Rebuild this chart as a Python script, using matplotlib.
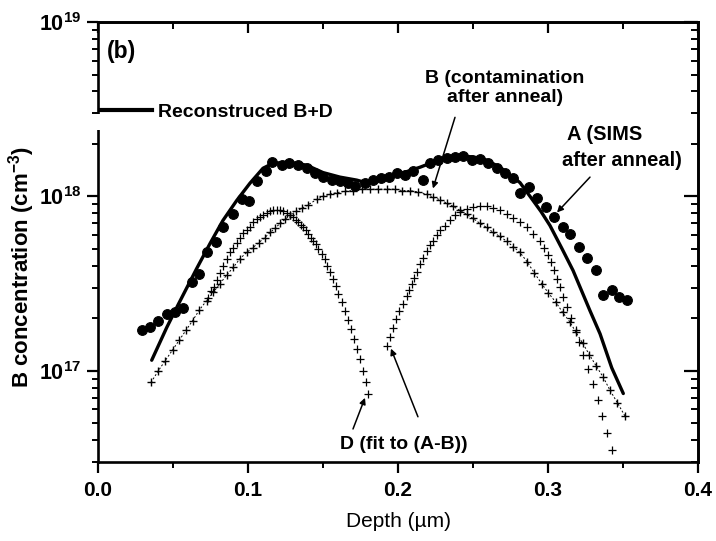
import matplotlib
matplotlib.use("Agg")
import matplotlib.pyplot as plt
from matplotlib.ticker import LogLocator, MultipleLocator, FixedLocator, NullFormatter
from matplotlib.lines import Line2D
from matplotlib.patches import Rectangle

plt.rcParams['font.family'] = ['Liberation Sans', 'DejaVu Sans']
plt.rcParams['mathtext.fontset'] = 'custom'
plt.rcParams['mathtext.rm'] = 'Liberation Sans'
plt.rcParams['mathtext.bf'] = 'Liberation Sans:bold'
plt.rcParams['mathtext.it'] = 'Liberation Sans:italic'

# ---- data (depth in um, concentration in cm^-3) ----
sims_depth = [0.0291, 0.0347, 0.0402, 0.0458, 0.0513, 0.0569, 0.0625, 0.0675, 0.0725, 0.0787,
              0.0835, 0.0898, 0.0958, 0.1009, 0.1058, 0.1120, 0.1162, 0.1225, 0.1275, 0.1335,
              0.1391, 0.1447, 0.1502, 0.1558, 0.1613, 0.1669, 0.1713, 0.1780, 0.1833, 0.1887,
              0.1940, 0.1991, 0.2047, 0.2102, 0.2165, 0.2213, 0.2269, 0.2325, 0.2380, 0.2435,
              0.2491, 0.2547, 0.2602, 0.2658, 0.2713, 0.2769, 0.2813, 0.2875, 0.2925, 0.2985,
              0.3040, 0.3098, 0.3147, 0.3209, 0.3258, 0.3318, 0.3365, 0.3425, 0.3475, 0.3525]
sims_conc = [1.72e17, 1.79e17, 1.94e17, 2.13e17, 2.18e17, 2.30e17, 3.21e17, 3.61e17, 4.77e17, 5.51e17,
             6.64e17, 7.88e17, 9.61e17, 9.36e17, 1.22e18, 1.39e18, 1.57e18, 1.51e18, 1.55e18, 1.51e18,
             1.45e18, 1.36e18, 1.30e18, 1.25e18, 1.22e18, 1.19e18, 1.14e18, 1.19e18, 1.24e18, 1.27e18,
             1.30e18, 1.36e18, 1.32e18, 1.39e18, 1.24e18, 1.55e18, 1.61e18, 1.65e18, 1.68e18, 1.70e18,
             1.61e18, 1.63e18, 1.55e18, 1.45e18, 1.37e18, 1.27e18, 1.05e18, 1.13e18, 9.74e17, 8.65e17,
             7.60e17, 6.64e17, 6.05e17, 5.11e17, 4.42e17, 3.79e17, 2.73e17, 2.91e17, 2.64e17, 2.56e17]

recon_depth = [0.0358, 0.0458, 0.0535, 0.0658, 0.0747, 0.0833, 0.0925, 0.1013, 0.1100, 0.1167,
               0.1280, 0.1391, 0.1500, 0.1613, 0.1725, 0.1800, 0.1947, 0.2147, 0.2233, 0.2413,
               0.2567, 0.2680, 0.2813, 0.2900, 0.2953, 0.3013, 0.3093, 0.3167, 0.3280, 0.3347,
               0.3425, 0.3502]
recon_conc = [1.15e17, 1.77e17, 2.40e17, 3.86e17, 5.37e17, 7.28e17, 9.48e17, 1.19e18, 1.45e18, 1.55e18,
              1.57e18, 1.51e18, 1.37e18, 1.29e18, 1.24e18, 1.19e18, 1.29e18, 1.47e18, 1.57e18, 1.72e18,
              1.65e18, 1.47e18, 1.20e18, 9.48e17, 8.20e17, 6.81e17, 5.02e17, 3.76e17, 2.21e17, 1.63e17,
              1.04e17, 7.41e16]

b_depth = [0.0353, 0.0402, 0.0447, 0.0498, 0.0542, 0.0587, 0.0631, 0.0675, 0.0725, 0.0769,
           0.0813, 0.0858, 0.0902, 0.0947, 0.0991, 0.1033, 0.1073, 0.1113, 0.1147, 0.1180,
           0.1213, 0.1247, 0.1280, 0.1320, 0.1358, 0.1400, 0.1458, 0.1500, 0.1547, 0.1591,
           0.1647, 0.1700, 0.1758, 0.1813, 0.1867, 0.1925, 0.1980, 0.2025, 0.2080, 0.2133,
           0.2191, 0.2233, 0.2280, 0.2325, 0.2367, 0.2413, 0.2458, 0.2500, 0.2547, 0.2591,
           0.2633, 0.2680, 0.2725, 0.2767, 0.2813, 0.2860, 0.2907, 0.2958, 0.3000, 0.3053,
           0.3098, 0.3147, 0.3187, 0.3231, 0.3275, 0.3320, 0.3369, 0.3413, 0.3462, 0.3513]
b_conc = [8.57e16, 1.00e17, 1.14e17, 1.32e17, 1.50e17, 1.71e17, 1.94e17, 2.23e17, 2.53e17, 2.82e17,
          3.16e17, 3.54e17, 3.92e17, 4.40e17, 4.77e17, 5.09e17, 5.44e17, 5.81e17, 6.21e17, 6.55e17,
          7.00e17, 7.38e17, 7.78e17, 8.20e17, 8.53e17, 8.94e17, 9.61e17, 1.00e18, 1.03e18, 1.05e18,
          1.07e18, 1.08e18, 1.10e18, 1.10e18, 1.10e18, 1.10e18, 1.10e18, 1.08e18, 1.08e18, 1.06e18,
          1.03e18, 9.91e17, 9.57e17, 9.15e17, 8.77e17, 8.31e17, 7.88e17, 7.48e17, 7.00e17, 6.64e17,
          6.23e17, 5.89e17, 5.53e17, 5.16e17, 4.77e17, 4.23e17, 3.66e17, 3.16e17, 2.81e17, 2.47e17,
          2.16e17, 1.90e17, 1.66e17, 1.44e17, 1.24e17, 1.07e17, 9.16e16, 7.74e16, 6.57e16, 5.51e16]

d_left_depth = [0.0733, 0.0753, 0.0773, 0.0793, 0.0813, 0.0833, 0.0858, 0.0880, 0.0902, 0.0927,
                0.0947, 0.0967, 0.0991, 0.1013, 0.1035, 0.1060, 0.1080, 0.1100, 0.1125, 0.1147,
                0.1169, 0.1193, 0.1213, 0.1233, 0.1258, 0.1280, 0.1302, 0.1320, 0.1335, 0.1353,
                0.1369, 0.1387, 0.1402, 0.1420, 0.1435, 0.1450, 0.1469, 0.1491, 0.1513, 0.1529,
                0.1547, 0.1565, 0.1587, 0.1602, 0.1625, 0.1647, 0.1665, 0.1687, 0.1707, 0.1725,
                0.1747, 0.1769, 0.1785, 0.1802]
d_left_conc = [2.63e17, 2.85e17, 3.04e17, 3.33e17, 3.66e17, 4.01e17, 4.40e17, 4.77e17, 5.09e17, 5.44e17,
               5.81e17, 6.13e17, 6.46e17, 6.72e17, 7.09e17, 7.38e17, 7.62e17, 7.83e17, 8.04e17, 8.20e17,
               8.31e17, 8.36e17, 8.31e17, 8.20e17, 8.04e17, 7.83e17, 7.57e17, 7.33e17, 7.09e17, 6.86e17,
               6.64e17, 6.38e17, 6.11e17, 5.81e17, 5.55e17, 5.30e17, 5.00e17, 4.69e17, 4.38e17, 4.01e17,
               3.67e17, 3.37e17, 3.08e17, 2.76e17, 2.47e17, 2.21e17, 1.96e17, 1.74e17, 1.52e17, 1.33e17,
               1.17e17, 1.00e17, 8.68e16, 7.41e16]

d_right_depth = [0.1925, 0.1947, 0.1965, 0.1987, 0.2009, 0.2031, 0.2058, 0.2075, 0.2091, 0.2107,
                 0.2125, 0.2147, 0.2169, 0.2191, 0.2213, 0.2233, 0.2258, 0.2280, 0.2313, 0.2347,
                 0.2380, 0.2413, 0.2458, 0.2502, 0.2547, 0.2591, 0.2635, 0.2680, 0.2725, 0.2769,
                 0.2813, 0.2858, 0.2902, 0.2947, 0.2973, 0.3000, 0.3020, 0.3040, 0.3060, 0.3080,
                 0.3098, 0.3125, 0.3151, 0.3187, 0.3209, 0.3235, 0.3269, 0.3302, 0.3331, 0.3360,
                 0.3391, 0.3425]
d_right_conc = [1.39e17, 1.57e17, 1.76e17, 1.98e17, 2.19e17, 2.42e17, 2.68e17, 2.92e17, 3.16e17, 3.40e17,
                3.71e17, 4.07e17, 4.46e17, 4.89e17, 5.23e17, 5.58e17, 5.97e17, 6.38e17, 6.81e17, 7.28e17,
                7.78e17, 8.13e17, 8.49e17, 8.69e17, 8.77e17, 8.77e17, 8.61e17, 8.31e17, 7.96e17, 7.54e17,
                7.12e17, 6.66e17, 6.11e17, 5.58e17, 5.09e17, 4.64e17, 4.18e17, 3.76e17, 3.38e17, 3.04e17,
                2.66e17, 2.31e17, 2.02e17, 1.71e17, 1.46e17, 1.24e17, 1.02e17, 8.39e16, 6.81e16, 5.51e16,
                4.42e16, 3.52e16]

x_ticks = [0.0, 0.1, 0.2, 0.3, 0.4]
x_tick_labels = ['0.0', '0.1', '0.2', '0.3', '0.4']
y_ticks = [1e17, 1e18, 1e19]
y_tick_labels = [r'$\mathbf{10^{17}}$', r'$\mathbf{10^{18}}$', r'$\mathbf{10^{19}}$']

# ---- figure ----
fig = plt.figure(figsize=(7.16, 5.41), dpi=100)
ax = fig.add_axes([98/716, 1-462/541, 600/716, 440/541])

ax.plot(recon_depth, recon_conc, '-', color='black', lw=2.4, zorder=3,
        solid_joinstyle='round', solid_capstyle='round')
ax.plot(sims_depth, sims_conc, 'o', color='black', ms=7.0, mew=0.8, mec='black', zorder=4)
ax.plot(b_depth, b_conc, color='black', lw=0.7, ls=(0, (2, 2)), marker='+', ms=6, mew=1.0, zorder=2)
ax.plot(d_left_depth, d_left_conc, '+', color='black', ms=5.5, mew=0.9, zorder=2)
ax.plot(d_right_depth, d_right_conc, '+', color='black', ms=5.5, mew=0.9, zorder=2)

ax.set_yscale('log')
ax.set_xlim(0.0, 0.4)
ax.set_ylim(3e16, 1e19)

ax.xaxis.set_major_locator(FixedLocator(x_ticks))
ax.set_xticklabels(x_tick_labels)
ax.xaxis.set_minor_locator(MultipleLocator(0.05))
ax.yaxis.set_major_locator(FixedLocator(y_ticks))
ax.set_yticklabels(y_tick_labels)
ax.yaxis.set_minor_locator(LogLocator(base=10, subs=range(2, 10), numticks=20))
ax.yaxis.set_minor_formatter(NullFormatter())

for side in ['left', 'right', 'top', 'bottom']:
    ax.spines[side].set_linewidth(1.9)

ax.tick_params(axis='both', which='major', direction='out', length=8, width=1.6,
               labelsize=15, pad=6)
ax.tick_params(axis='y', which='major', labelsize=15.5, pad=4)
ax.tick_params(axis='both', which='minor', direction='out', length=4.5, width=1.4)

# top/right ticks point inward: draw with secondary axes
axt = ax.secondary_xaxis('top')
axt.xaxis.set_major_locator(FixedLocator(x_ticks))
axt.xaxis.set_minor_locator(MultipleLocator(0.05))
axt.tick_params(which='major', direction='in', length=8, width=1.6, labeltop=False)
axt.tick_params(which='minor', direction='in', length=5, width=1.4)
axt.set_xticklabels([])
axr = ax.secondary_yaxis('right')
axr.yaxis.set_major_locator(FixedLocator(y_ticks))
axr.yaxis.set_minor_locator(LogLocator(base=10, subs=range(2, 10), numticks=20))
axr.tick_params(which='major', direction='in', length=10, width=1.6, labelright=False)
axr.tick_params(which='minor', direction='in', length=5, width=1.4, labelright=False)
axr.set_yticklabels([])
axr.yaxis.set_minor_formatter(NullFormatter())
ax.tick_params(axis='x', which='both', top=False)
ax.tick_params(axis='y', which='both', right=False)
axt.spines['top'].set_linewidth(1.9)
axr.spines['right'].set_linewidth(1.9)

for lab in ax.get_xticklabels():
    lab.set_fontweight('bold')

ax.set_xlabel('Depth (\u00b5m)', fontsize=15, labelpad=8)
ax.set_ylabel(r'B concentration (cm$^{\mathbf{-3}}$)', fontsize=16, fontweight='bold')
ax.yaxis.label.set_va('center')
ax.yaxis.set_label_coords(-0.128, 0.443)

# legend
leg_handle = Line2D([], [], color='black', lw=3)
leg = ax.legend([leg_handle], ['Reconstruced B+D'], loc='center left',
                bbox_to_anchor=(0.003, 0.795), frameon=False, borderpad=0,
                handlelength=2.7, handletextpad=0.3, borderaxespad=0,
                prop={'weight': 'bold', 'size': 14})

# gap in the left spine under the legend
ax.add_patch(Rectangle((-0.01, 0.755), 0.02, 0.035, transform=ax.transAxes,
                       facecolor='white', edgecolor='none', clip_on=False, zorder=5))

# labels and arrows
ax.text(0.04, 0.934, '(b)', transform=ax.transAxes, fontsize=16.5, fontweight='bold',
        ha='center', va='center')

arrow_kw = dict(arrowstyle='-|>', color='black', lw=1.1, mutation_scale=9,
                shrinkA=0, shrinkB=0)

ax.text(0.2713, 4.2e18, 'B (contamination\nafter anneal)', fontsize=14, fontweight='bold',
        ha='center', va='center', linespacing=1.15)
ax.annotate('', xy=(0.2233, 1.11e18), xytext=(0.238, 2.84e18), arrowprops=arrow_kw)

ax.text(0.3127, 2.25e18, 'A (SIMS', fontsize=14.5, fontweight='bold', ha='left', va='center')
ax.text(0.3093, 1.6e18, 'after anneal)', fontsize=14.5, fontweight='bold', ha='left', va='center')
ax.annotate('', xy=(0.306, 8.09e17), xytext=(0.328, 1.29e18), arrowprops=arrow_kw)

ax.text(0.1613, 3.76e16, 'D (fit to (A-B))', fontsize=14, fontweight='bold', ha='left', va='center')
ax.annotate('', xy=(0.178, 7.0e16), xytext=(0.17, 4.64e16), arrowprops=arrow_kw)
ax.annotate('', xy=(0.1953, 1.34e17), xytext=(0.2133, 5.45e16), arrowprops=arrow_kw)

fig.savefig('out.png', dpi=100)
